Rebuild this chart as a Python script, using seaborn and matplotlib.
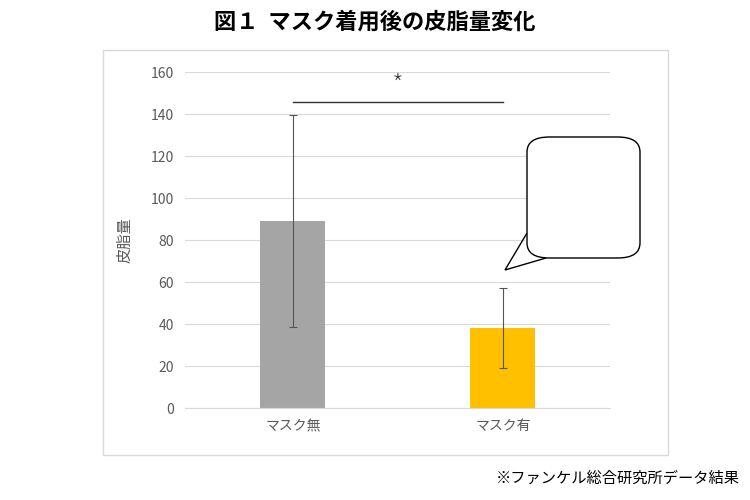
import matplotlib
matplotlib.use("Agg")
import matplotlib.pyplot as plt
import seaborn as sns
import pandas as pd
from matplotlib.patches import Rectangle, FancyBboxPatch, Polygon

categories = ["マスク無", "マスク有"]
values = [89, 38]
errors = [50.5, 19]
colors = ["#a5a5a5", "#ffc000"]
yticks = [0, 20, 40, 60, 80, 100, 120, 140, 160]

plt.rcParams["font.family"] = "Noto Sans CJK JP"
fig = plt.figure(figsize=(7.5, 5), dpi=100)
ax = fig.add_axes([185/750, 1-408/500, 425/750, 336/500])
df = pd.DataFrame({"cat": categories, "val": values})
sns.barplot(data=df, x="cat", y="val", hue="cat", palette=colors, width=0.31,
            legend=False, ax=ax, errorbar=None, saturation=1)
ax.errorbar(range(len(values)), values, yerr=errors, fmt="none", ecolor="#555555",
            elinewidth=0.8, capsize=3, capthick=0.8)
ax.set_xlim(-0.514, 1.51)
ax.set_ylim(0, 160)
ax.set_yticks(yticks)
ax.yaxis.grid(True, color="#d9d9d9", linewidth=0.8)
ax.set_axisbelow(True)
for s in ["top", "right", "left"]:
    ax.spines[s].set_visible(False)
ax.spines["bottom"].set_color("#d9d9d9")
ax.tick_params(length=0, labelsize=10, colors="#595959", pad=8)
ax.set_xlabel("")
ax.set_ylabel("皮脂量", fontsize=11, color="#595959", labelpad=12)

# significance
ax.plot([0, 1], [145.7, 145.7], color="#333333", lw=1)
ax.text(0.5, 153, "*", ha="center", va="center", fontsize=20, color="#333333",
        fontweight="light")

# callout bubble
bub = FancyBboxPatch((527/750, 1-258/500), 113/750, 121/500,
                     boxstyle="round,pad=0,rounding_size=0.03",
                     transform=fig.transFigure, fc="white", ec="black", lw=1, zorder=5)
fig.patches.append(bub)
fig.patches.append(Polygon([(527/750, 1-233/500), (505/750, 1-270/500), (546/750, 1-258/500)],
               closed=False, transform=fig.transFigure, fc="none", ec="black", lw=1))
fig.patches.append(Polygon([(529/750, 1-234/500), (508/750, 1-267/500), (546/750, 1-256.5/500),
                            (546/750, 1-234/500)],
               transform=fig.transFigure, fc="white", ec="none"))
fig.text(583/750, 1-178/500, "約 50%", ha="center", va="center", fontsize=12)
fig.text(583/750, 1-218/500, "減少", ha="center", va="center", fontsize=12)

# outer frame
fig.patches.append(Rectangle((103/750, 1-455/500), 565/750, 405/500, transform=fig.transFigure,
                             fill=False, ec="#d9d9d9", lw=1))
fig.text(0.5, 1-22/500, "図１  マスク着用後の皮脂量変化", ha="center", va="center",
         fontsize=16, fontweight="bold")
fig.text(740/750, 1-478/500, "※ファンケル総合研究所データ結果", ha="right", va="center", fontsize=11)
fig.savefig("out.png", dpi=100)
